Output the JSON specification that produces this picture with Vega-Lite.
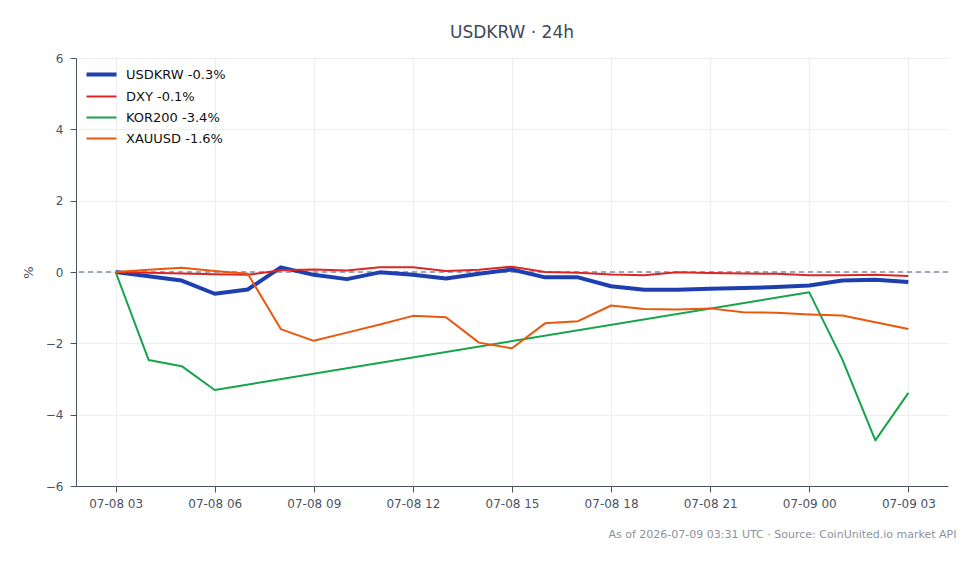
{
  "$schema": "https://vega.github.io/schema/vega-lite/v6.json",
  "width": 980,
  "height": 564,
  "autosize": {"type": "fit", "contains": "padding"},
  "padding": {"left": 22, "top": 24, "right": 24, "bottom": 25},
  "background": "white",
  "title": {
    "text": "USDKRW · 24h",
    "anchor": "middle",
    "font": "DejaVu Sans",
    "fontSize": 17,
    "fontWeight": "normal",
    "color": "#3e4858",
    "offset": 10
  },
  "config": {
    "view": {"stroke": null},
    "font": "DejaVu Sans",
    "axis": {
      "domainColor": "#4a5363",
      "tickColor": "#4a5363",
      "labelColor": "#4a5363",
      "labelFont": "DejaVu Sans",
      "labelFontSize": 12,
      "gridColor": "#eceef1",
      "tickSize": 6,
      "titleFont": "DejaVu Sans",
      "titleFontWeight": "normal"
    }
  },
  "data": {
    "values": [
      {"t": "2026-07-08T03:00:00Z", "series": "USDKRW -0.3%", "pct": 0},
      {"t": "2026-07-08T04:00:00Z", "series": "USDKRW -0.3%", "pct": -0.12},
      {"t": "2026-07-08T05:00:00Z", "series": "USDKRW -0.3%", "pct": -0.24},
      {"t": "2026-07-08T06:00:00Z", "series": "USDKRW -0.3%", "pct": -0.61},
      {"t": "2026-07-08T07:00:00Z", "series": "USDKRW -0.3%", "pct": -0.49},
      {"t": "2026-07-08T08:00:00Z", "series": "USDKRW -0.3%", "pct": 0.13},
      {"t": "2026-07-08T09:00:00Z", "series": "USDKRW -0.3%", "pct": -0.08},
      {"t": "2026-07-08T10:00:00Z", "series": "USDKRW -0.3%", "pct": -0.2},
      {"t": "2026-07-08T11:00:00Z", "series": "USDKRW -0.3%", "pct": -0.01},
      {"t": "2026-07-08T12:00:00Z", "series": "USDKRW -0.3%", "pct": -0.08},
      {"t": "2026-07-08T13:00:00Z", "series": "USDKRW -0.3%", "pct": -0.18},
      {"t": "2026-07-08T14:00:00Z", "series": "USDKRW -0.3%", "pct": -0.05},
      {"t": "2026-07-08T15:00:00Z", "series": "USDKRW -0.3%", "pct": 0.07},
      {"t": "2026-07-08T16:00:00Z", "series": "USDKRW -0.3%", "pct": -0.15},
      {"t": "2026-07-08T17:00:00Z", "series": "USDKRW -0.3%", "pct": -0.15},
      {"t": "2026-07-08T18:00:00Z", "series": "USDKRW -0.3%", "pct": -0.4},
      {"t": "2026-07-08T19:00:00Z", "series": "USDKRW -0.3%", "pct": -0.5},
      {"t": "2026-07-08T20:00:00Z", "series": "USDKRW -0.3%", "pct": -0.5},
      {"t": "2026-07-08T21:00:00Z", "series": "USDKRW -0.3%", "pct": -0.47},
      {"t": "2026-07-08T22:00:00Z", "series": "USDKRW -0.3%", "pct": -0.45},
      {"t": "2026-07-08T23:00:00Z", "series": "USDKRW -0.3%", "pct": -0.42},
      {"t": "2026-07-09T00:00:00Z", "series": "USDKRW -0.3%", "pct": -0.38},
      {"t": "2026-07-09T01:00:00Z", "series": "USDKRW -0.3%", "pct": -0.24},
      {"t": "2026-07-09T02:00:00Z", "series": "USDKRW -0.3%", "pct": -0.22},
      {"t": "2026-07-09T03:00:00Z", "series": "USDKRW -0.3%", "pct": -0.28},
      {"t": "2026-07-08T03:00:00Z", "series": "DXY -0.1%", "pct": 0},
      {"t": "2026-07-08T04:00:00Z", "series": "DXY -0.1%", "pct": -0.02},
      {"t": "2026-07-08T05:00:00Z", "series": "DXY -0.1%", "pct": -0.04},
      {"t": "2026-07-08T06:00:00Z", "series": "DXY -0.1%", "pct": -0.06},
      {"t": "2026-07-08T07:00:00Z", "series": "DXY -0.1%", "pct": -0.08},
      {"t": "2026-07-08T08:00:00Z", "series": "DXY -0.1%", "pct": 0.05},
      {"t": "2026-07-08T09:00:00Z", "series": "DXY -0.1%", "pct": 0.07},
      {"t": "2026-07-08T10:00:00Z", "series": "DXY -0.1%", "pct": 0.04},
      {"t": "2026-07-08T11:00:00Z", "series": "DXY -0.1%", "pct": 0.13},
      {"t": "2026-07-08T12:00:00Z", "series": "DXY -0.1%", "pct": 0.13},
      {"t": "2026-07-08T13:00:00Z", "series": "DXY -0.1%", "pct": 0.03},
      {"t": "2026-07-08T14:00:00Z", "series": "DXY -0.1%", "pct": 0.06},
      {"t": "2026-07-08T15:00:00Z", "series": "DXY -0.1%", "pct": 0.15},
      {"t": "2026-07-08T16:00:00Z", "series": "DXY -0.1%", "pct": 0.0},
      {"t": "2026-07-08T17:00:00Z", "series": "DXY -0.1%", "pct": -0.02},
      {"t": "2026-07-08T18:00:00Z", "series": "DXY -0.1%", "pct": -0.07},
      {"t": "2026-07-08T19:00:00Z", "series": "DXY -0.1%", "pct": -0.09},
      {"t": "2026-07-08T20:00:00Z", "series": "DXY -0.1%", "pct": -0.01},
      {"t": "2026-07-08T21:00:00Z", "series": "DXY -0.1%", "pct": -0.03},
      {"t": "2026-07-08T22:00:00Z", "series": "DXY -0.1%", "pct": -0.04},
      {"t": "2026-07-08T23:00:00Z", "series": "DXY -0.1%", "pct": -0.05},
      {"t": "2026-07-09T00:00:00Z", "series": "DXY -0.1%", "pct": -0.09},
      {"t": "2026-07-09T01:00:00Z", "series": "DXY -0.1%", "pct": -0.09},
      {"t": "2026-07-09T02:00:00Z", "series": "DXY -0.1%", "pct": -0.08},
      {"t": "2026-07-09T03:00:00Z", "series": "DXY -0.1%", "pct": -0.11},
      {"t": "2026-07-08T03:00:00Z", "series": "KOR200 -3.4%", "pct": 0},
      {"t": "2026-07-08T04:00:00Z", "series": "KOR200 -3.4%", "pct": -2.47},
      {"t": "2026-07-08T05:00:00Z", "series": "KOR200 -3.4%", "pct": -2.64},
      {"t": "2026-07-08T06:00:00Z", "series": "KOR200 -3.4%", "pct": -3.31},
      {"t": "2026-07-09T00:00:00Z", "series": "KOR200 -3.4%", "pct": -0.57},
      {"t": "2026-07-09T01:00:00Z", "series": "KOR200 -3.4%", "pct": -2.45},
      {"t": "2026-07-09T02:00:00Z", "series": "KOR200 -3.4%", "pct": -4.72},
      {"t": "2026-07-09T03:00:00Z", "series": "KOR200 -3.4%", "pct": -3.39},
      {"t": "2026-07-08T03:00:00Z", "series": "XAUUSD -1.6%", "pct": 0},
      {"t": "2026-07-08T04:00:00Z", "series": "XAUUSD -1.6%", "pct": 0.06},
      {"t": "2026-07-08T05:00:00Z", "series": "XAUUSD -1.6%", "pct": 0.12},
      {"t": "2026-07-08T06:00:00Z", "series": "XAUUSD -1.6%", "pct": 0.03},
      {"t": "2026-07-08T07:00:00Z", "series": "XAUUSD -1.6%", "pct": -0.05},
      {"t": "2026-07-08T08:00:00Z", "series": "XAUUSD -1.6%", "pct": -1.6},
      {"t": "2026-07-08T09:00:00Z", "series": "XAUUSD -1.6%", "pct": -1.93},
      {"t": "2026-07-08T10:00:00Z", "series": "XAUUSD -1.6%", "pct": -1.7},
      {"t": "2026-07-08T11:00:00Z", "series": "XAUUSD -1.6%", "pct": -1.47},
      {"t": "2026-07-08T12:00:00Z", "series": "XAUUSD -1.6%", "pct": -1.23},
      {"t": "2026-07-08T13:00:00Z", "series": "XAUUSD -1.6%", "pct": -1.27},
      {"t": "2026-07-08T14:00:00Z", "series": "XAUUSD -1.6%", "pct": -1.98},
      {"t": "2026-07-08T15:00:00Z", "series": "XAUUSD -1.6%", "pct": -2.14},
      {"t": "2026-07-08T16:00:00Z", "series": "XAUUSD -1.6%", "pct": -1.44},
      {"t": "2026-07-08T17:00:00Z", "series": "XAUUSD -1.6%", "pct": -1.38},
      {"t": "2026-07-08T18:00:00Z", "series": "XAUUSD -1.6%", "pct": -0.94},
      {"t": "2026-07-08T19:00:00Z", "series": "XAUUSD -1.6%", "pct": -1.04},
      {"t": "2026-07-08T20:00:00Z", "series": "XAUUSD -1.6%", "pct": -1.05},
      {"t": "2026-07-08T21:00:00Z", "series": "XAUUSD -1.6%", "pct": -1.02},
      {"t": "2026-07-08T22:00:00Z", "series": "XAUUSD -1.6%", "pct": -1.13},
      {"t": "2026-07-08T23:00:00Z", "series": "XAUUSD -1.6%", "pct": -1.14},
      {"t": "2026-07-09T00:00:00Z", "series": "XAUUSD -1.6%", "pct": -1.19},
      {"t": "2026-07-09T01:00:00Z", "series": "XAUUSD -1.6%", "pct": -1.22},
      {"t": "2026-07-09T02:00:00Z", "series": "XAUUSD -1.6%", "pct": -1.41},
      {"t": "2026-07-09T03:00:00Z", "series": "XAUUSD -1.6%", "pct": -1.6}
    ]
  },
  "encoding": {
    "y": {
      "field": "pct",
      "type": "quantitative",
      "scale": {"domain": [-6, 6], "nice": false, "zero": false},
      "axis": {
        "values": [-6, -4, -2, 0, 2, 4, 6],
        "labelPadding": 7,
        "title": "%",
        "titleFontSize": 13,
        "titleColor": "#4a5363",
        "titlePadding": 10
      }
    }
  },
  "layer": [
    {
      "mark": {"type": "rule", "color": "#9ea6b6", "strokeDash": [5, 4], "strokeWidth": 1},
      "encoding": {"y": {"datum": 0}}
    },
    {
      "encoding": {
        "x": {
          "field": "t",
          "type": "temporal",
          "scale": {
            "type": "utc",
            "nice": false,
            "domain": [1783475280000, 1783570320000]
          },
          "axis": {
            "labelExpr": "utcFormat(datum.value, '%m-%d %H')",
            "values": [1783479600000, 1783490400000, 1783501200000, 1783512000000, 1783522800000, 1783533600000, 1783544400000, 1783555200000, 1783566000000],
            "labelPadding": 6,
            "labelFlush": false,
            "labelOverlap": false,
            "title": "As of 2026-07-09 03:31 UTC · Source: CoinUnited.io market API",
            "titleFontSize": 11,
            "titleColor": "#8b929c",
            "titleAlign": "right",
            "titleX": {"expr": "width + 8"},
            "titlePadding": 19
          }
        },
        "color": {
          "field": "series",
          "type": "nominal",
          "scale": {
            "domain": ["USDKRW -0.3%", "DXY -0.1%", "KOR200 -3.4%", "XAUUSD -1.6%"],
            "range": ["#1e40af", "#dc2626", "#16a34a", "#ea580c"]
          },
          "legend": {
            "orient": "top-left",
            "offset": 10,
            "title": null,
            "symbolType": "stroke",
            "symbolSize": 900,
            "symbolStrokeWidth": 2,
            "symbolOffset": 9,
            "labelFontSize": 13,
            "labelColor": "#111111",
            "labelOffset": 18,
            "rowPadding": 7,
            "encode": {
              "symbols": {
                "update": {
                  "strokeWidth": {"signal": "datum.value === 'USDKRW -0.3%' ? 4 : 2"}
                }
              }
            }
          }
        }
      },
      "layer": [
        {
          "transform": [{"filter": "datum.series === 'USDKRW -0.3%'"}],
          "mark": {"type": "line", "strokeWidth": 4, "strokeJoin": "round"}
        },
        {
          "transform": [{"filter": "datum.series !== 'USDKRW -0.3%'"}],
          "mark": {"type": "line", "strokeWidth": 2, "strokeJoin": "round"}
        }
      ]
    }
  ]
}
